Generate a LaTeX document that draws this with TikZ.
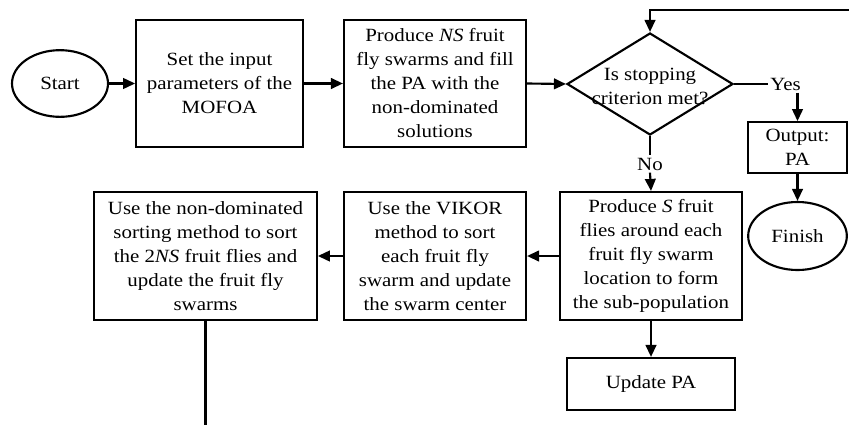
\documentclass[tikz,border=0pt]{standalone}
\usepackage{fontspec}
\setmainfont{Liberation Serif}[FakeStretch=1.12]
\usetikzlibrary{shapes.geometric, arrows.meta}

\begin{document}
\begin{tikzpicture}[x=0.75pt, y=-0.75pt, line width=1.6pt,
    font=\fontsize{14}{18}\selectfont,
    procbox/.style={draw, rectangle, align=center, inner sep=2pt},
    termnode/.style={draw, ellipse, inner sep=0pt},
    arr/.style={-{Triangle[length=9pt, width=8pt]}}]
  \useasboundingbox (0,0) rectangle (849,425);

  % Start and set-up
  \node[termnode, minimum width=72pt, minimum height=50pt] (start) at (60,83.5) {Start};
  \node[procbox, minimum width=125pt, minimum height=95pt] (setpar) at (219.5,83.5) {
    Set the input\\parameters of the\\MOFOA
  };
  \node[procbox, minimum width=136.5pt, minimum height=95pt] (initswarm) at (435,83.5) {
    Produce \textit{NS} fruit\\fly swarms and fill\\the PA with the\\non-dominated\\solutions
  };

  % Stopping test
  \node[draw, diamond, minimum width=124.5pt, minimum height=76.5pt, inner sep=0pt,
    label={[align=center, yshift=-1.5pt]center:Is stopping\\criterion met?}] (stop) at (650,84) {};
  \node[inner sep=1pt, anchor=west] (yes) at (768,84) {Yes};
  \node[inner sep=1pt] (no) at (650,164) {No};

  % Output
  \node[procbox, minimum width=74pt, minimum height=38pt] (output) at (797.5,147.5) {
    Output:\\PA
  };
  \node[termnode, minimum width=74pt, minimum height=51pt] (finish) at (797.5,236) {Finish};

  % Main loop
  \node[procbox, minimum width=136.5pt, minimum height=96pt] (subpop) at (651,256) {
    Produce \textit{S} fruit\\flies around each\\fruit fly swarm\\location to form\\the sub-population
  };
  \node[procbox, minimum width=126pt, minimum height=39pt] (updpa) at (651,384) {Update PA};
  \node[procbox, minimum width=136.5pt, minimum height=96pt] (vikor) at (435,256) {
    Use the VIKOR\\method to sort\\each fruit fly\\swarm and update\\the swarm center
  };
  \node[procbox, minimum width=167pt, minimum height=96pt] (ndsort) at (205.5,256) {
    Use the non-dominated\\sorting method to sort\\the 2\textit{NS} fruit flies and\\update the fruit fly\\swarms
  };

  % Loop ends
  \coordinate (backin) at (849,10);
  \coordinate (backout) at (205.5,425);

  % Connectors
  \draw[arr] (start) -- (setpar);
  \draw[arr] (setpar) -- (initswarm);
  \draw[arr] (initswarm.east) -- (stop.west);
  \draw[arr] (backin) -| (stop.north);
  \draw (stop.east) -- (yes.west);
  \draw[arr] (yes.south -| output.north) -- (output.north);
  \draw[arr] (output) -- (finish);
  \draw (stop.south) -- (no.north);
  \draw[arr] (no.south) -- (subpop.north);
  \draw[arr] (subpop) -- (updpa);
  \draw[arr] (subpop) -- (vikor);
  \draw[arr] (vikor) -- (ndsort);
  \draw (ndsort.south) -- (backout);
\end{tikzpicture}
\end{document}
